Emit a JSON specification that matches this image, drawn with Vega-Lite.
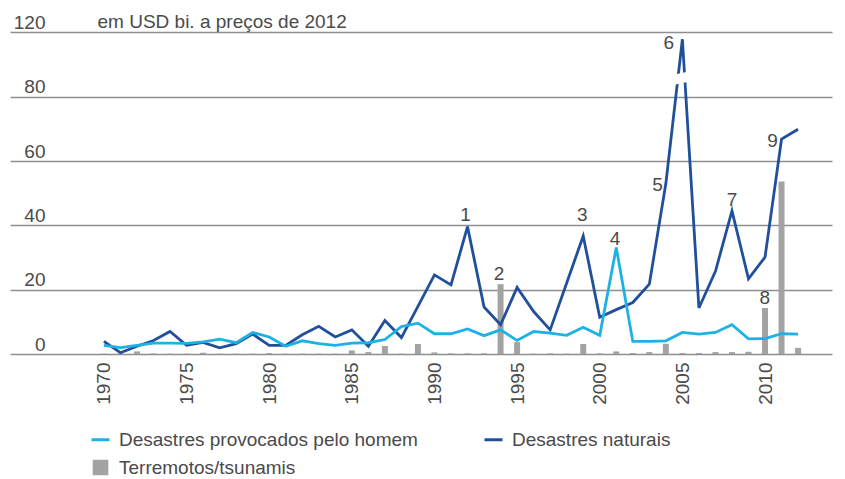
{
  "$schema": "https://vega.github.io/schema/vega-lite/v6.json",
  "width": 822,
  "height": 322,
  "autosize": "none",
  "padding": {"left": 10, "top": 32, "right": 13, "bottom": 125},
  "background": "white",
  "config": {"font": "Liberation Sans", "view": {"stroke": null}},
  "datasets": {
    "main": [
      {"year":1970,"series":"Desastres naturais","value":3.9},{"year":1971,"series":"Desastres naturais","value":0.4},{"year":1972,"series":"Desastres naturais","value":2.4},{"year":1973,"series":"Desastres naturais","value":4.2},{"year":1974,"series":"Desastres naturais","value":7.0},{"year":1975,"series":"Desastres naturais","value":2.7},{"year":1976,"series":"Desastres naturais","value":3.6},{"year":1977,"series":"Desastres naturais","value":1.9},{"year":1978,"series":"Desastres naturais","value":3.2},{"year":1979,"series":"Desastres naturais","value":6.2},{"year":1980,"series":"Desastres naturais","value":2.7},{"year":1981,"series":"Desastres naturais","value":2.7},{"year":1982,"series":"Desastres naturais","value":6.0},{"year":1983,"series":"Desastres naturais","value":8.6},{"year":1984,"series":"Desastres naturais","value":5.3},{"year":1985,"series":"Desastres naturais","value":7.5},{"year":1986,"series":"Desastres naturais","value":2.4},{"year":1987,"series":"Desastres naturais","value":10.4},{"year":1988,"series":"Desastres naturais","value":5.1},{"year":1989,"series":"Desastres naturais","value":14.8},{"year":1990,"series":"Desastres naturais","value":24.6},{"year":1991,"series":"Desastres naturais","value":21.5},{"year":1992,"series":"Desastres naturais","value":39.6},{"year":1993,"series":"Desastres naturais","value":14.6},{"year":1994,"series":"Desastres naturais","value":9.1},{"year":1995,"series":"Desastres naturais","value":20.7},{"year":1996,"series":"Desastres naturais","value":13.2},{"year":1997,"series":"Desastres naturais","value":7.5},{"year":1998,"series":"Desastres naturais","value":22.1},{"year":1999,"series":"Desastres naturais","value":36.7},{"year":2000,"series":"Desastres naturais","value":11.4},{"year":2001,"series":"Desastres naturais","value":13.8},{"year":2002,"series":"Desastres naturais","value":16.0},{"year":2003,"series":"Desastres naturais","value":21.7},{"year":2004,"series":"Desastres naturais","value":53.0},{"year":2005,"series":"Desastres naturais","value":115.5},{"year":2006,"series":"Desastres naturais","value":14.3},{"year":2007,"series":"Desastres naturais","value":25.7},{"year":2008,"series":"Desastres naturais","value":44.5},{"year":2009,"series":"Desastres naturais","value":23.4},{"year":2010,"series":"Desastres naturais","value":30.1},{"year":2011,"series":"Desastres naturais","value":66.8},{"year":2012,"series":"Desastres naturais","value":69.9},
      {"year":1970,"series":"Desastres provocados pelo homem","value":2.7},{"year":1971,"series":"Desastres provocados pelo homem","value":2.0},{"year":1972,"series":"Desastres provocados pelo homem","value":2.7},{"year":1973,"series":"Desastres provocados pelo homem","value":3.4},{"year":1974,"series":"Desastres provocados pelo homem","value":3.4},{"year":1975,"series":"Desastres provocados pelo homem","value":3.3},{"year":1976,"series":"Desastres provocados pelo homem","value":3.8},{"year":1977,"series":"Desastres provocados pelo homem","value":4.6},{"year":1978,"series":"Desastres provocados pelo homem","value":3.5},{"year":1979,"series":"Desastres provocados pelo homem","value":6.7},{"year":1980,"series":"Desastres provocados pelo homem","value":5.3},{"year":1981,"series":"Desastres provocados pelo homem","value":2.4},{"year":1982,"series":"Desastres provocados pelo homem","value":4.1},{"year":1983,"series":"Desastres provocados pelo homem","value":3.2},{"year":1984,"series":"Desastres provocados pelo homem","value":2.7},{"year":1985,"series":"Desastres provocados pelo homem","value":3.4},{"year":1986,"series":"Desastres provocados pelo homem","value":3.5},{"year":1987,"series":"Desastres provocados pelo homem","value":4.5},{"year":1988,"series":"Desastres provocados pelo homem","value":8.5},{"year":1989,"series":"Desastres provocados pelo homem","value":9.6},{"year":1990,"series":"Desastres provocados pelo homem","value":6.3},{"year":1991,"series":"Desastres provocados pelo homem","value":6.3},{"year":1992,"series":"Desastres provocados pelo homem","value":7.8},{"year":1993,"series":"Desastres provocados pelo homem","value":5.7},{"year":1994,"series":"Desastres provocados pelo homem","value":7.5},{"year":1995,"series":"Desastres provocados pelo homem","value":4.2},{"year":1996,"series":"Desastres provocados pelo homem","value":7.0},{"year":1997,"series":"Desastres provocados pelo homem","value":6.5},{"year":1998,"series":"Desastres provocados pelo homem","value":5.8},{"year":1999,"series":"Desastres provocados pelo homem","value":8.3},{"year":2000,"series":"Desastres provocados pelo homem","value":5.8},{"year":2001,"series":"Desastres provocados pelo homem","value":33.1},{"year":2002,"series":"Desastres provocados pelo homem","value":3.9},{"year":2003,"series":"Desastres provocados pelo homem","value":3.9},{"year":2004,"series":"Desastres provocados pelo homem","value":4.1},{"year":2005,"series":"Desastres provocados pelo homem","value":6.7},{"year":2006,"series":"Desastres provocados pelo homem","value":6.2},{"year":2007,"series":"Desastres provocados pelo homem","value":6.7},{"year":2008,"series":"Desastres provocados pelo homem","value":9.1},{"year":2009,"series":"Desastres provocados pelo homem","value":4.7},{"year":2010,"series":"Desastres provocados pelo homem","value":4.8},{"year":2011,"series":"Desastres provocados pelo homem","value":6.3},{"year":2012,"series":"Desastres provocados pelo homem","value":6.2},
      {"year":1970,"series":"Terremotos/tsunamis","value":0.1},{"year":1971,"series":"Terremotos/tsunamis","value":0.1},{"year":1972,"series":"Terremotos/tsunamis","value":0.8},{"year":1973,"series":"Terremotos/tsunamis","value":0.2},{"year":1974,"series":"Terremotos/tsunamis","value":0.1},{"year":1975,"series":"Terremotos/tsunamis","value":0.1},{"year":1976,"series":"Terremotos/tsunamis","value":0.4},{"year":1977,"series":"Terremotos/tsunamis","value":0.1},{"year":1978,"series":"Terremotos/tsunamis","value":0.1},{"year":1979,"series":"Terremotos/tsunamis","value":0.1},{"year":1980,"series":"Terremotos/tsunamis","value":0.3},{"year":1981,"series":"Terremotos/tsunamis","value":0.1},{"year":1982,"series":"Terremotos/tsunamis","value":0.1},{"year":1983,"series":"Terremotos/tsunamis","value":0.1},{"year":1984,"series":"Terremotos/tsunamis","value":0.1},{"year":1985,"series":"Terremotos/tsunamis","value":1.1},{"year":1986,"series":"Terremotos/tsunamis","value":0.6},{"year":1987,"series":"Terremotos/tsunamis","value":2.5},{"year":1988,"series":"Terremotos/tsunamis","value":0.1},{"year":1989,"series":"Terremotos/tsunamis","value":3.1},{"year":1990,"series":"Terremotos/tsunamis","value":0.5},{"year":1991,"series":"Terremotos/tsunamis","value":0.2},{"year":1992,"series":"Terremotos/tsunamis","value":0.2},{"year":1993,"series":"Terremotos/tsunamis","value":0.2},{"year":1994,"series":"Terremotos/tsunamis","value":21.7},{"year":1995,"series":"Terremotos/tsunamis","value":3.7},{"year":1996,"series":"Terremotos/tsunamis","value":0.1},{"year":1997,"series":"Terremotos/tsunamis","value":0.2},{"year":1998,"series":"Terremotos/tsunamis","value":0.1},{"year":1999,"series":"Terremotos/tsunamis","value":3.1},{"year":2000,"series":"Terremotos/tsunamis","value":0.2},{"year":2001,"series":"Terremotos/tsunamis","value":0.8},{"year":2002,"series":"Terremotos/tsunamis","value":0.3},{"year":2003,"series":"Terremotos/tsunamis","value":0.6},{"year":2004,"series":"Terremotos/tsunamis","value":3.2},{"year":2005,"series":"Terremotos/tsunamis","value":0.3},{"year":2006,"series":"Terremotos/tsunamis","value":0.3},{"year":2007,"series":"Terremotos/tsunamis","value":0.6},{"year":2008,"series":"Terremotos/tsunamis","value":0.6},{"year":2009,"series":"Terremotos/tsunamis","value":0.7},{"year":2010,"series":"Terremotos/tsunamis","value":14.3},{"year":2011,"series":"Terremotos/tsunamis","value":53.6},{"year":2012,"series":"Terremotos/tsunamis","value":1.9}
    ],
    "labels": [
      {"year":1991.88,"value":43.3,"label":"1"},
      {"year":1993.9,"value":24.9,"label":"2"},
      {"year":1998.95,"value":43.3,"label":"3"},
      {"year":2000.93,"value":35.7,"label":"4"},
      {"year":2003.5,"value":52.6,"label":"5"},
      {"year":2004.17,"value":113.2,"label":"6"},
      {"year":2008.0,"value":47.9,"label":"7"},
      {"year":2009.99,"value":17.4,"label":"8"},
      {"year":2010.45,"value":66.3,"label":"9"}
    ],
    "axisbreak": [
      {"year":2004.45,"value":90.4,"year2":2005.45,"value2":92.6}
    ]
  },
  "layer": [
    {
      "data": {"name": "main"},
      "transform": [{"filter": "datum.series === 'Terremotos/tsunamis'"}],
      "mark": {"type": "bar", "size": 6},
      "encoding": {
        "x": {"field": "year", "type": "quantitative",
          "scale": {"domain": [1964.62, 2013.75], "nice": false, "zero": false},
          "axis": {"title": null, "values": [1970,1975,1980,1985,1990,1995,2000,2005,2010], "format": "d",
            "labelAngle": -90, "labelAlign": "right", "labelBaseline": "middle", "labelPadding": 8,
            "ticks": false, "domain": false, "grid": false, "labelFontSize": 19, "labelColor": "#4a4a4a", "labelFlush": false, "labelOverlap": false}},
        "y": {"field": "value", "type": "quantitative",
          "scale": {"domain": [0, 80, 120], "range": [322, 64.7, 0], "nice": false, "zero": false},
          "axis": {"title": "em USD bi. a preços de 2012", "titleAngle": 0, "titleAlign": "left", "titleBaseline": "alphabetic",
            "titleX": 87, "titleY": -5, "titleFontSize": 19, "titleFontWeight": "normal", "titleColor": "#4a4a4a",
            "values": [0,20,40,60,80,120], "grid": true, "gridColor": "#8f8f8f", "gridWidth": 1.5,
            "domain": false, "ticks": false, "tickSize": 0, "labelPadding": -35, "labelAlign": "right",
            "labelBaseline": "alphabetic", "labelOffset": -4, "labelFontSize": 19, "labelColor": "#4a4a4a",
            "labelFlush": false, "labelOverlap": false}},
        "color": {"field": "series", "type": "nominal",
          "scale": {"domain": ["Desastres provocados pelo homem", "Desastres naturais", "Terremotos/tsunamis"],
                    "range": ["#1eb1e5", "#21509b", "#a3a3a3"]},
          "legend": {"title": null, "orient": "none", "legendX": 80, "legendY": 397, "columns": 2, "direction": "horizontal",
            "columnPadding": 60, "rowPadding": 5, "labelFontSize": 19, "labelColor": "#4a4a4a", "labelOffset": 8, "labelLimit": 0,
            "symbolType": "stroke", "symbolStrokeWidth": 3, "symbolSize": 324,
            "encode": {"symbols": {"update": {
              "shape": {"signal": "datum.value === 'Terremotos/tsunamis' ? 'square' : 'stroke'"},
              "fill": {"signal": "datum.value === 'Terremotos/tsunamis' ? '#a3a3a3' : 'transparent'"},
              "stroke": {"signal": "datum.value === 'Terremotos/tsunamis' ? 'transparent' : scale('color', datum.value)"},
              "strokeWidth": {"value": 3},
              "size": {"signal": "datum.value === 'Terremotos/tsunamis' ? 160 : 324"},
              "opacity": {"value": 1}
            }}}}}
      }
    },
    {
      "data": {"name": "main"},
      "transform": [{"filter": "datum.series !== 'Terremotos/tsunamis'"}],
      "mark": {"type": "line", "strokeWidth": 2.8},
      "encoding": {
        "x": {"field": "year", "type": "quantitative", "title": null},
        "y": {"field": "value", "type": "quantitative", "title": "em USD bi. a preços de 2012"},
        "color": {"field": "series", "type": "nominal"}
      }
    },
    {
      "data": {"name": "axisbreak"},
      "mark": {"type": "rule", "color": "white", "strokeWidth": 10},
      "encoding": {
        "x": {"field": "year", "type": "quantitative", "title": null},
        "x2": {"field": "year2"},
        "y": {"field": "value", "type": "quantitative", "title": "em USD bi. a preços de 2012"},
        "y2": {"field": "value2"}
      }
    },
    {
      "data": {"name": "labels"},
      "mark": {"type": "text", "fontSize": 19, "color": "#4a4a4a", "align": "center", "baseline": "middle"},
      "encoding": {
        "x": {"field": "year", "type": "quantitative", "title": null},
        "y": {"field": "value", "type": "quantitative", "title": "em USD bi. a preços de 2012"},
        "text": {"field": "label"}
      }
    }
  ]
}
